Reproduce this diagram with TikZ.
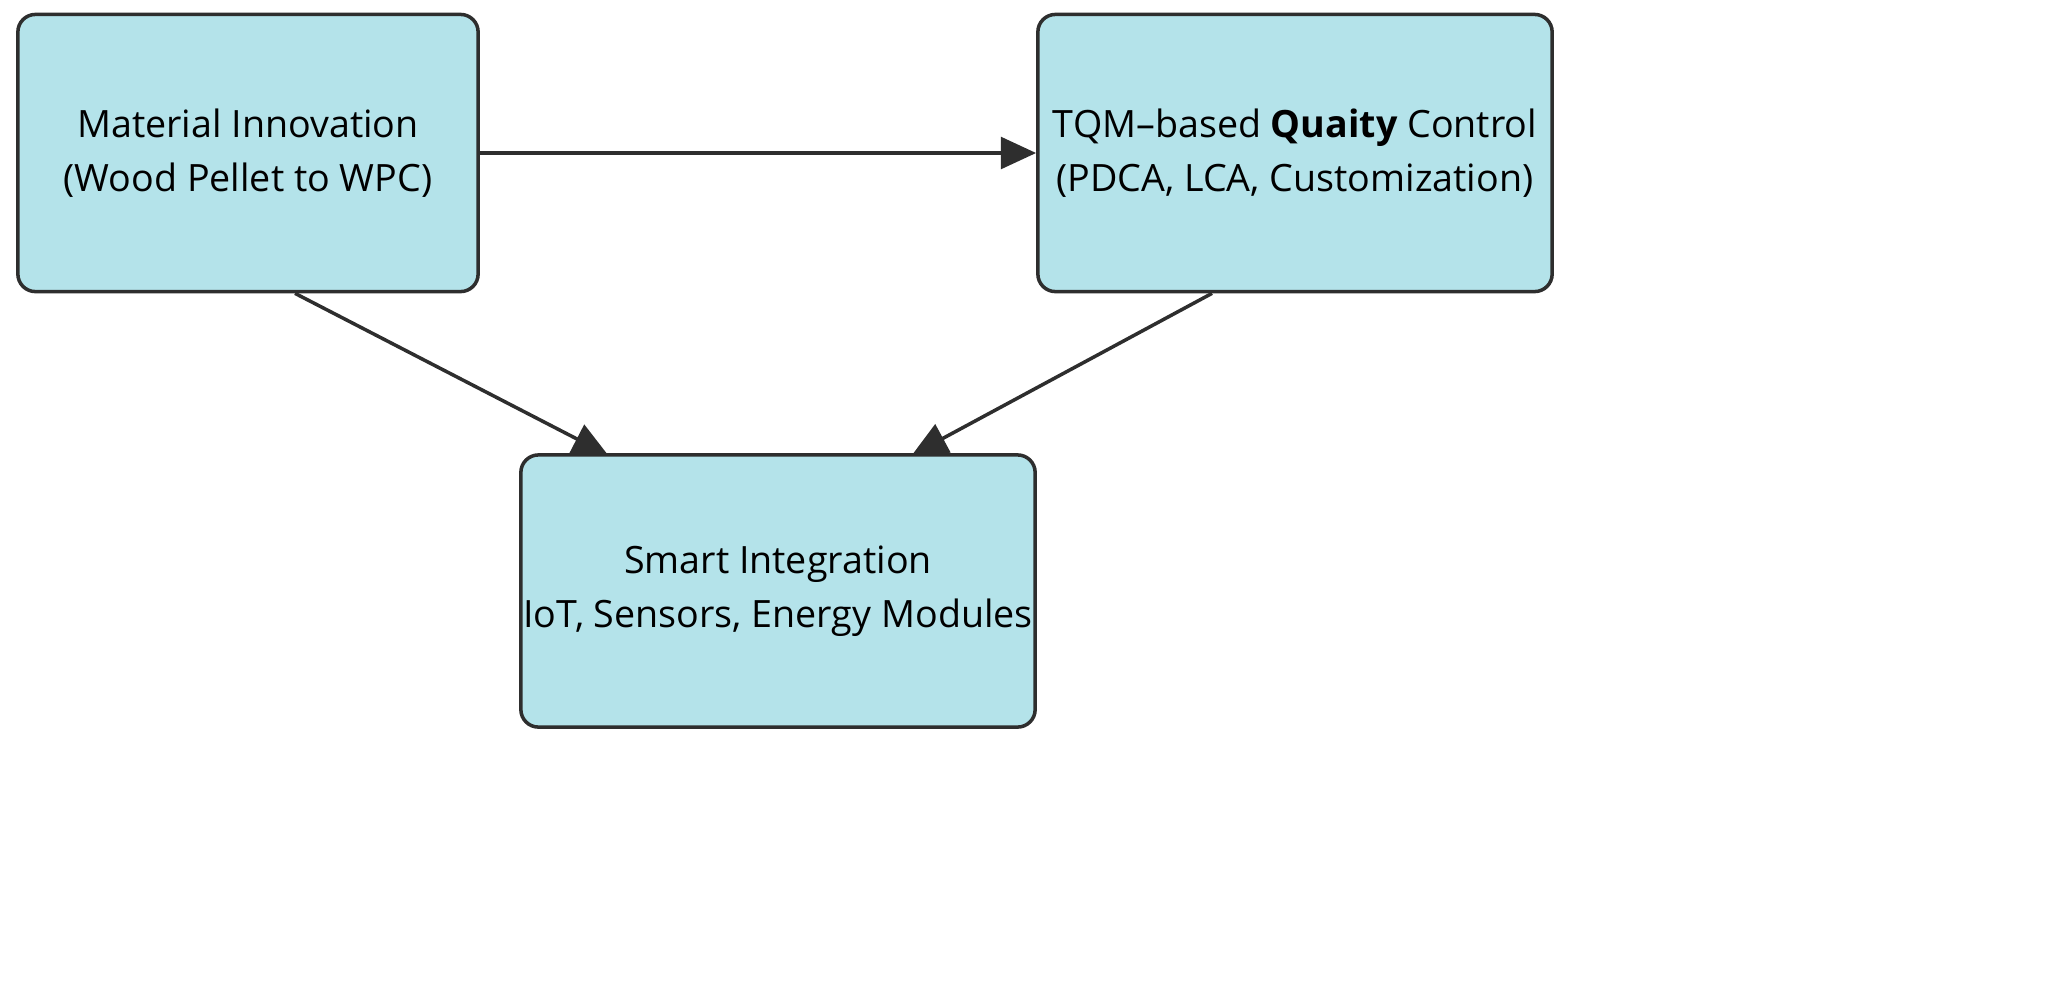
\documentclass[tikz,border=0pt]{standalone}
\usepackage{fontspec}
\setmainfont{Open Sans}
\usetikzlibrary{arrows.meta}
\definecolor{boxfill}{HTML}{B4E3EA}
\definecolor{edge}{HTML}{2E2E2E}
\begin{document}
\begin{tikzpicture}[x=0.01cm,y=-0.01cm,
  box/.style={draw=edge,line width=1pt,fill=boxfill,rounded corners=5pt,align=center,inner sep=0pt,font=\fontsize{10.7}{15.5}\selectfont},
  arr/.style={draw=edge,line width=1pt,-{Triangle[length=10pt,width=9pt]}}]
\useasboundingbox (0,0) rectangle (2061,981);
\node[box,minimum width=4.6cm,minimum height=2.77cm] (a) at (248,153) {Material Innovation\\(Wood Pellet to WPC)};
\node[box,minimum width=5.14cm,minimum height=2.77cm] (b) at (1295,153) {TQM–based \textbf{Quaity} Control\\(PDCA, LCA, Customization)};
\node[box,minimum width=5.14cm,minimum height=2.72cm] (c) at (778,591) {Smart Integration\\IoT, Sensors, Energy Modules};
\draw[arr] (a.east) -- (b.west);
\draw[arr] (a.south) ++(47,0) coordinate (a1) -- (608,455) coordinate (c1);
\draw[arr] (b.south) ++(-83,0) coordinate (b1) -- (912,455) coordinate (c2);
\end{tikzpicture}
\end{document}
